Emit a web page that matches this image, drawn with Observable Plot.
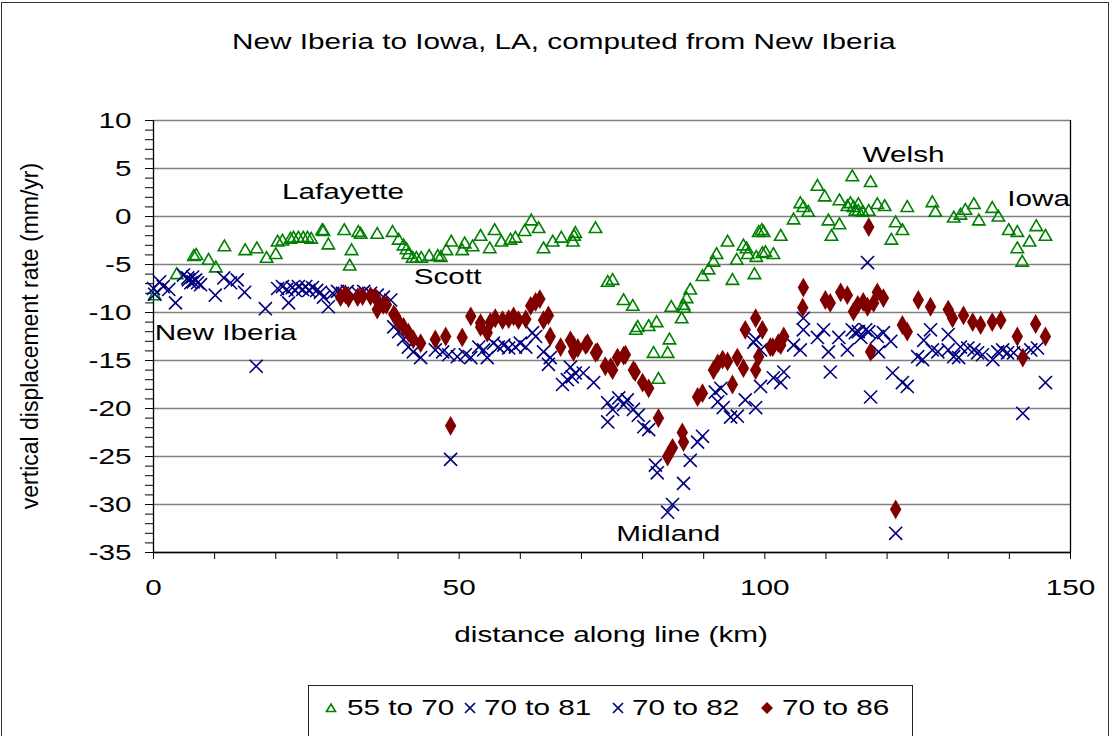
<!DOCTYPE html>
<html>
<head>
<meta charset="utf-8">
<script src="https://cdn.jsdelivr.net/npm/d3@7"></script>
<script src="https://cdn.jsdelivr.net/npm/@observablehq/plot@0.6"></script>
<style>
  html, body { margin: 0; padding: 0; background: #fff; }
  #frame { position: relative; width: 1113px; height: 736px; overflow: hidden; background: #fff;
           font-family: 'Liberation Sans', Arial, sans-serif; color: #000; }
  #border { position: absolute; left: 1px; top: 2px; width: 1108px; height: 740px; border: 1.5px solid #333; box-sizing: border-box; }
  .stretch { display: inline-block; transform: scaleX(1.35); white-space: nowrap; }
  #title { position: absolute; left: 0; width: 1128px; top: 28px; text-align: center; font-size: 22px; line-height: 28px; }
  #title .stretch { transform-origin: center center; }
  #chart { position: absolute; left: 0; top: 70px; }
  #ylab { position: absolute; left: 30px; top: 336px; font-size: 23px; white-space: nowrap;
          transform: translate(-50%, -50%) rotate(-90deg); }
  #xlab { position: absolute; left: 0; width: 1222px; top: 621px; text-align: center; font-size: 22px; line-height: 28px; }
  #legend { position: absolute; left: 308px; top: 685px; width: 605px; height: 52px; border: 1.2px solid #222; box-sizing: border-box; }
  .li { position: absolute; top: 694px; height: 28px; font-size: 22px; line-height: 28px; }
  .li .stretch { transform-origin: left center; }
  .sw { position: absolute; }
</style>
</head>
<body>
<div id="frame">
  <div id="border"></div>
  <div id="title"><span class="stretch">New Iberia to Iowa, LA, computed from New Iberia</span></div>
  <div id="chart"></div>
  <div id="ylab">vertical displacement rate (mm/yr)</div>
  <div id="xlab"><span class="stretch">distance along line (km)</span></div>
  <div id="legend"></div>
  <svg class="sw" style="left:325px;top:702px" width="12" height="12"><path d="M6,2L10.5,9.5L1.5,9.5Z" fill="none" stroke="#008000" stroke-width="1.6"/></svg>
  <div class="li" style="left:347px"><span class="stretch">55 to 70</span></div>
  <svg class="sw" style="left:463px;top:701px" width="14" height="14"><path d="M2,2L12,12M12,2L2,12" stroke="#000080" stroke-width="1.7"/></svg>
  <div class="li" style="left:484px"><span class="stretch">70 to 81</span></div>
  <svg class="sw" style="left:611px;top:701px" width="14" height="14"><path d="M2,2L12,12M12,2L2,12" stroke="#000080" stroke-width="1.7"/></svg>
  <div class="li" style="left:632px"><span class="stretch">70 to 82</span></div>
  <svg class="sw" style="left:760px;top:701px" width="14" height="14"><path d="M7,1L13,7L7,13L1,7Z" fill="#800000"/></svg>
  <div class="li" style="left:782px"><span class="stretch">70 to 86</span></div>
</div>
<script>
// ---- data: [distance km, vertical displacement rate mm/yr] ----
const s55_70 = [[0.2,-8.3],[3.8,-6.1],[6.6,-4.2],[7.0,-4.1],[9.0,-4.6],[10.2,-5.4],[11.6,-3.2],[15.0,-3.6],[16.9,-3.4],[18.5,-4.4],[20.0,-4.0],[20.3,-2.7],[21.1,-2.6],[22.4,-2.4],[22.9,-2.3],[23.7,-2.3],[24.5,-2.3],[25.2,-2.3],[25.8,-2.4],[27.6,-1.5],[27.8,-1.6],[28.6,-3.0],[31.2,-1.5],[32.4,-3.6],[32.1,-5.2],[33.5,-1.7],[33.9,-1.9],[36.6,-1.9],[39.1,-1.7],[40.1,-2.5],[40.9,-3.1],[41.4,-3.5],[41.7,-4.0],[42.4,-4.4],[43.0,-4.4],[43.8,-4.4],[45.1,-4.2],[46.5,-4.2],[47.0,-4.3],[47.9,-3.6],[48.7,-2.7],[50.5,-3.6],[50.9,-2.9],[52.2,-3.2],[53.5,-2.1],[55.0,-3.4],[55.8,-1.5],[56.9,-2.7],[58.4,-2.5],[59.2,-2.3],[60.7,-1.6],[61.8,-0.5],[63.0,-1.3],[63.8,-3.4],[65.3,-2.7],[66.7,-2.3],[68.6,-2.7],[68.8,-2.1],[69.0,-1.8],[72.3,-1.3],[74.3,-6.9],[75.1,-6.7],[76.9,-8.8],[78.4,-9.4],[78.9,-11.9],[79.2,-11.6],[81.0,-11.5],[82.3,-11.1],[81.8,-14.3],[84.1,-14.3],[84.4,-12.9],[82.6,-17.0],[84.7,-9.5],[86.7,-9.3],[86.8,-9.6],[86.4,-10.7],[87.2,-8.6],[87.8,-7.7],[89.8,-6.3],[90.8,-5.6],[91.6,-4.8],[92.1,-4.0],[93.9,-2.7],[94.7,-6.7],[95.4,-4.6],[96.5,-3.1],[97.0,-3.4],[97.2,-4.0],[98.3,-6.1],[98.6,-4.3],[99.0,-1.7],[99.6,-3.9],[100.1,-3.8],[101.4,-4.0],[99.5,-1.5],[99.8,-1.7],[102.6,-2.1],[104.7,-0.4],[105.8,1.3],[106.3,0.9],[107.1,0.4],[108.6,3.1],[109.8,2.0],[110.4,-0.5],[110.9,-2.1],[112.2,1.6],[112.2,-0.9],[113.5,1.0],[114.0,1.3],[114.5,0.9],[114.8,0.5],[115.3,1.2],[115.3,0.5],[116.0,0.4],[114.3,4.1],[117.0,0.5],[117.3,3.5],[118.4,1.2],[119.6,1.0],[120.7,-2.5],[121.4,-0.7],[122.5,-1.5],[123.3,0.9],[127.4,1.4],[127.9,0.4],[130.9,-0.2],[132.0,0.1],[132.8,0.6],[134.2,1.2],[135.0,-0.5],[137.2,0.8],[138.2,-0.1],[139.9,-1.5],[141.3,-1.7],[141.3,-3.4],[142.1,-4.8],[143.3,-2.7],[144.4,-1.1],[145.9,-2.1]];

const s70_81 = [[0,-7.5],[1.0,-6.8],[2.5,-7.6],[4.9,-6.1],[5.7,-6.6],[6.9,-6.6],[6.5,-6.8],[7.7,-7.1],[11.5,-6.4],[13.7,-6.6],[18.3,-9.6],[20.3,-7.5],[21.8,-7.6],[22.7,-7.4],[23.7,-7.3],[24.9,-7.3],[26.0,-7.4],[27.3,-7.9],[28.6,-9.4],[30.1,-7.8],[31.7,-7.8],[33.5,-8.0],[35.5,-8.0],[37.6,-8.4],[39.3,-11.5],[40.9,-12.8],[42.5,-14.1],[46.1,-13.9],[48.3,-14.4],[51.0,-14.4],[53.2,-13.6],[54.6,-14.7],[56.4,-13.6],[58.1,-13.7],[60.0,-13.2],[62.0,-12.1],[63.8,-14.1],[64.6,-15.4],[69.0,-16.3],[66.9,-17.5],[70.3,-16.3],[74.3,-19.4],[77.5,-19.1],[75.1,-20.1],[78.5,-20.1],[80.2,-21.9],[82.1,-25.9],[84.1,-30.8],[86.7,-27.8],[89.0,-23.5],[91.9,-18.3],[92.3,-19.3],[94.4,-20.9],[96.8,-19.1],[99.3,-17.7],[101.4,-16.8],[103.1,-16.2],[99.3,-13.9],[105.8,-13.9],[106.3,-11.8],[109.6,-11.8],[110.7,-16.2],[113.5,-13.9],[114.8,-12.1],[115.7,-12.6],[117.0,-12.0],[119.4,-12.1],[120.6,-13.0],[122.5,-17.3],[116.8,-4.8],[125.0,-14.6],[126.0,-12.9],[127.4,-13.9],[130.0,-12.3],[130.9,-14.6],[132.0,-13.6],[134.2,-13.9],[135.6,-14.4],[138.1,-14.1],[139.7,-14.2],[142.3,-14.2],[144.6,-13.7],[142.2,-20.5],[48.6,-25.3]];

const s70_82 = [[0.2,-8.1],[1.6,-7.3],[3.6,-9.0],[5.6,-6.4],[6.4,-6.3],[6.1,-6.9],[7.2,-6.9],[10.1,-8.2],[12.6,-6.9],[14.9,-7.9],[16.8,-15.6],[21.1,-7.3],[22.1,-9.0],[23.2,-7.7],[24.4,-7.6],[25.4,-7.7],[26.7,-7.7],[27.8,-8.4],[29.3,-8.0],[30.9,-8.0],[32.7,-8.2],[34.4,-7.8],[36.6,-8.2],[38.8,-8.7],[40.1,-12.0],[41.7,-13.6],[43.7,-14.7],[47.3,-14.1],[49.7,-14.6],[51.9,-14.7],[54.0,-13.9],[55.6,-13.2],[57.3,-13.4],[59.2,-13.6],[60.9,-13.6],[62.5,-12.5],[64.9,-14.7],[68.2,-15.7],[68.5,-16.7],[67.7,-17.0],[72.0,-17.3],[76.1,-18.9],[76.9,-19.6],[74.3,-21.4],[79.3,-20.7],[81.0,-22.2],[82.4,-26.7],[84.9,-30.0],[87.8,-25.4],[89.8,-22.9],[92.8,-17.9],[93.2,-19.9],[95.5,-20.8],[98.5,-19.9],[98.2,-13.1],[102.6,-17.3],[98.5,-12.8],[104.7,-13.4],[106.3,-10.6],[108.6,-12.6],[110.4,-14.1],[112.1,-12.6],[114.3,-11.8],[115.3,-12.0],[116.5,-11.8],[118.4,-12.5],[118.6,-14.1],[120.9,-16.3],[123.3,-17.7],[117.3,-18.8],[125.8,-14.9],[127.1,-11.8],[128.3,-14.1],[130.0,-13.9],[131.7,-14.7],[133.2,-13.7],[134.8,-14.2],[137.3,-14.9],[138.9,-13.9],[140.7,-14.2],[143.5,-13.9],[145.9,-17.3],[121.4,-33.0]];

const s70_86 = [[30.6,-8.4],[31.4,-8.1],[31.9,-8.5],[33.4,-8.4],[34.2,-8.3],[35.5,-8.3],[36.3,-8.4],[36.6,-9.7],[38.1,-9.2],[37.6,-9.2],[39.3,-10.2],[39.6,-10.4],[40.1,-11.0],[40.9,-11.5],[41.7,-12.1],[42.5,-12.8],[43.7,-13.2],[46.1,-12.8],[47.8,-12.5],[50.5,-12.6],[48.6,-21.8],[51.9,-10.4],[53.5,-11.1],[53.5,-11.5],[54.6,-12.1],[55.1,-11.0],[55.9,-10.6],[57.1,-10.8],[58.1,-10.7],[58.9,-10.4],[59.7,-10.8],[60.9,-10.7],[61.7,-9.3],[62.5,-8.9],[63.2,-8.6],[63.8,-10.8],[64.6,-10.3],[64.9,-12.5],[66.6,-13.6],[68.2,-12.9],[68.7,-13.4],[68.7,-14.1],[69.4,-13.7],[70.7,-13.4],[71.0,-13.2],[72.6,-14.1],[72.3,-14.2],[73.9,-15.6],[74.8,-15.7],[75.1,-16.0],[75.9,-14.7],[76.9,-14.5],[77.2,-14.4],[78.5,-16.0],[78.8,-16.2],[80.0,-17.3],[81.0,-17.9],[82.6,-21.0],[84.1,-25.0],[84.9,-24.1],[86.5,-22.5],[86.7,-23.5],[89.0,-18.8],[89.8,-18.4],[91.6,-16.0],[92.3,-15.3],[93.1,-14.9],[93.9,-15.1],[94.7,-17.5],[95.5,-14.7],[96.5,-15.8],[96.8,-11.8],[98.5,-16.0],[99.0,-14.6],[98.5,-10.6],[99.6,-11.8],[100.9,-13.6],[101.3,-13.6],[102.2,-13.2],[102.6,-13.4],[103.1,-12.5],[106.3,-7.4],[106.2,-9.5],[109.9,-8.7],[110.7,-9.0],[112.4,-7.9],[113.5,-8.2],[114.5,-9.9],[115.2,-9.2],[116.1,-8.9],[116.8,-9.4],[117.3,-14.1],[117.8,-9.0],[118.4,-7.9],[119.4,-8.5],[122.5,-11.3],[123.3,-12.0],[125.1,-8.7],[127.1,-9.4],[130.0,-9.7],[130.7,-10.6],[132.5,-10.3],[134.0,-11.0],[135.3,-11.3],[137.2,-11.0],[138.6,-10.8],[141.3,-12.5],[142.2,-14.7],[144.3,-11.2],[145.9,-12.5],[117.0,-1.1],[121.4,-30.5]];

const placeNames = ["Lafayette", "Scott", "New Iberia", "Midland", "Welsh", "Iowa"];
const placeX = [31.0, 48.1, 11.8, 84.2, 122.7, 144.8];
const placeY = [2.6, -6.3, -12.1, -33.1, 6.4, 1.8];

const xTicks = d3.range(0, 151, 10);
const xLabelEvery = 50;
const yTicks = d3.range(-35, 11, 1);
const yLabelEvery = 5;
const yGrid = d3.range(-35, 11, 5);

const places = placeNames.map((n, i) => ({name: n, x: placeX[i], y: placeY[i]}));
const GREEN = "#008000", NAVY = "#000080", DARKRED = "#800000";

const chart = Plot.plot({
  width: 1113,
  height: 540,
  marginLeft: 153,
  marginRight: 43,
  marginTop: 50,
  marginBottom: 58,
  style: {fontFamily: "'Liberation Sans', Arial, sans-serif", fontSize: "22px", color: "#000", background: "transparent", overflow: "visible"},
  x: {domain: [0, 150], ticks: xTicks, tickFormat: d => d % xLabelEvery === 0 ? String(d) : "", tickSize: 7, tickPadding: 20, label: null},
  y: {domain: [-35, 10], ticks: yTicks, tickFormat: d => d % yLabelEvery === 0 ? String(d) : "", tickSize: 8, tickPadding: 14, label: null},
  marks: [
    Plot.ruleY(yGrid, {stroke: "#808080", strokeWidth: 1.3}),
    Plot.ruleX([150], {stroke: "#000", strokeWidth: 1.3}),
    Plot.ruleX([0], {stroke: "#000", strokeWidth: 1.3}),
    Plot.ruleY([-35], {stroke: "#000", strokeWidth: 1.3}),
    Plot.dot(s55_70, {x: d => d[0], y: d => d[1], symbol: "triangle", r: 4.6, stroke: GREEN, strokeWidth: 1.6, fill: "none"}),
    Plot.dot(s70_81, {x: d => d[0], y: d => d[1], symbol: "times", r: 6, stroke: NAVY, strokeWidth: 1.6}),
    Plot.dot(s70_82, {x: d => d[0], y: d => d[1], symbol: "times", r: 6, stroke: NAVY, strokeWidth: 1.6}),
    Plot.dot(s70_86, {x: d => d[0], y: d => d[1], symbol: "diamond", r: 6, fill: DARKRED, stroke: "none"}),
    Plot.text(places, {x: "x", y: "y", text: "name", fontSize: 22, fill: "#000"})
  ]
});
document.getElementById("chart").appendChild(chart);

// Reproduce the horizontally stretched lettering of the original
const K = 1.35;
chart.querySelectorAll("text").forEach(t => {
  const w = t.getComputedTextLength();
  if (w > 0) {
    t.setAttribute("textLength", (w * K).toFixed(1));
    t.setAttribute("lengthAdjust", "spacingAndGlyphs");
  }
});
</script>
</body>
</html>
